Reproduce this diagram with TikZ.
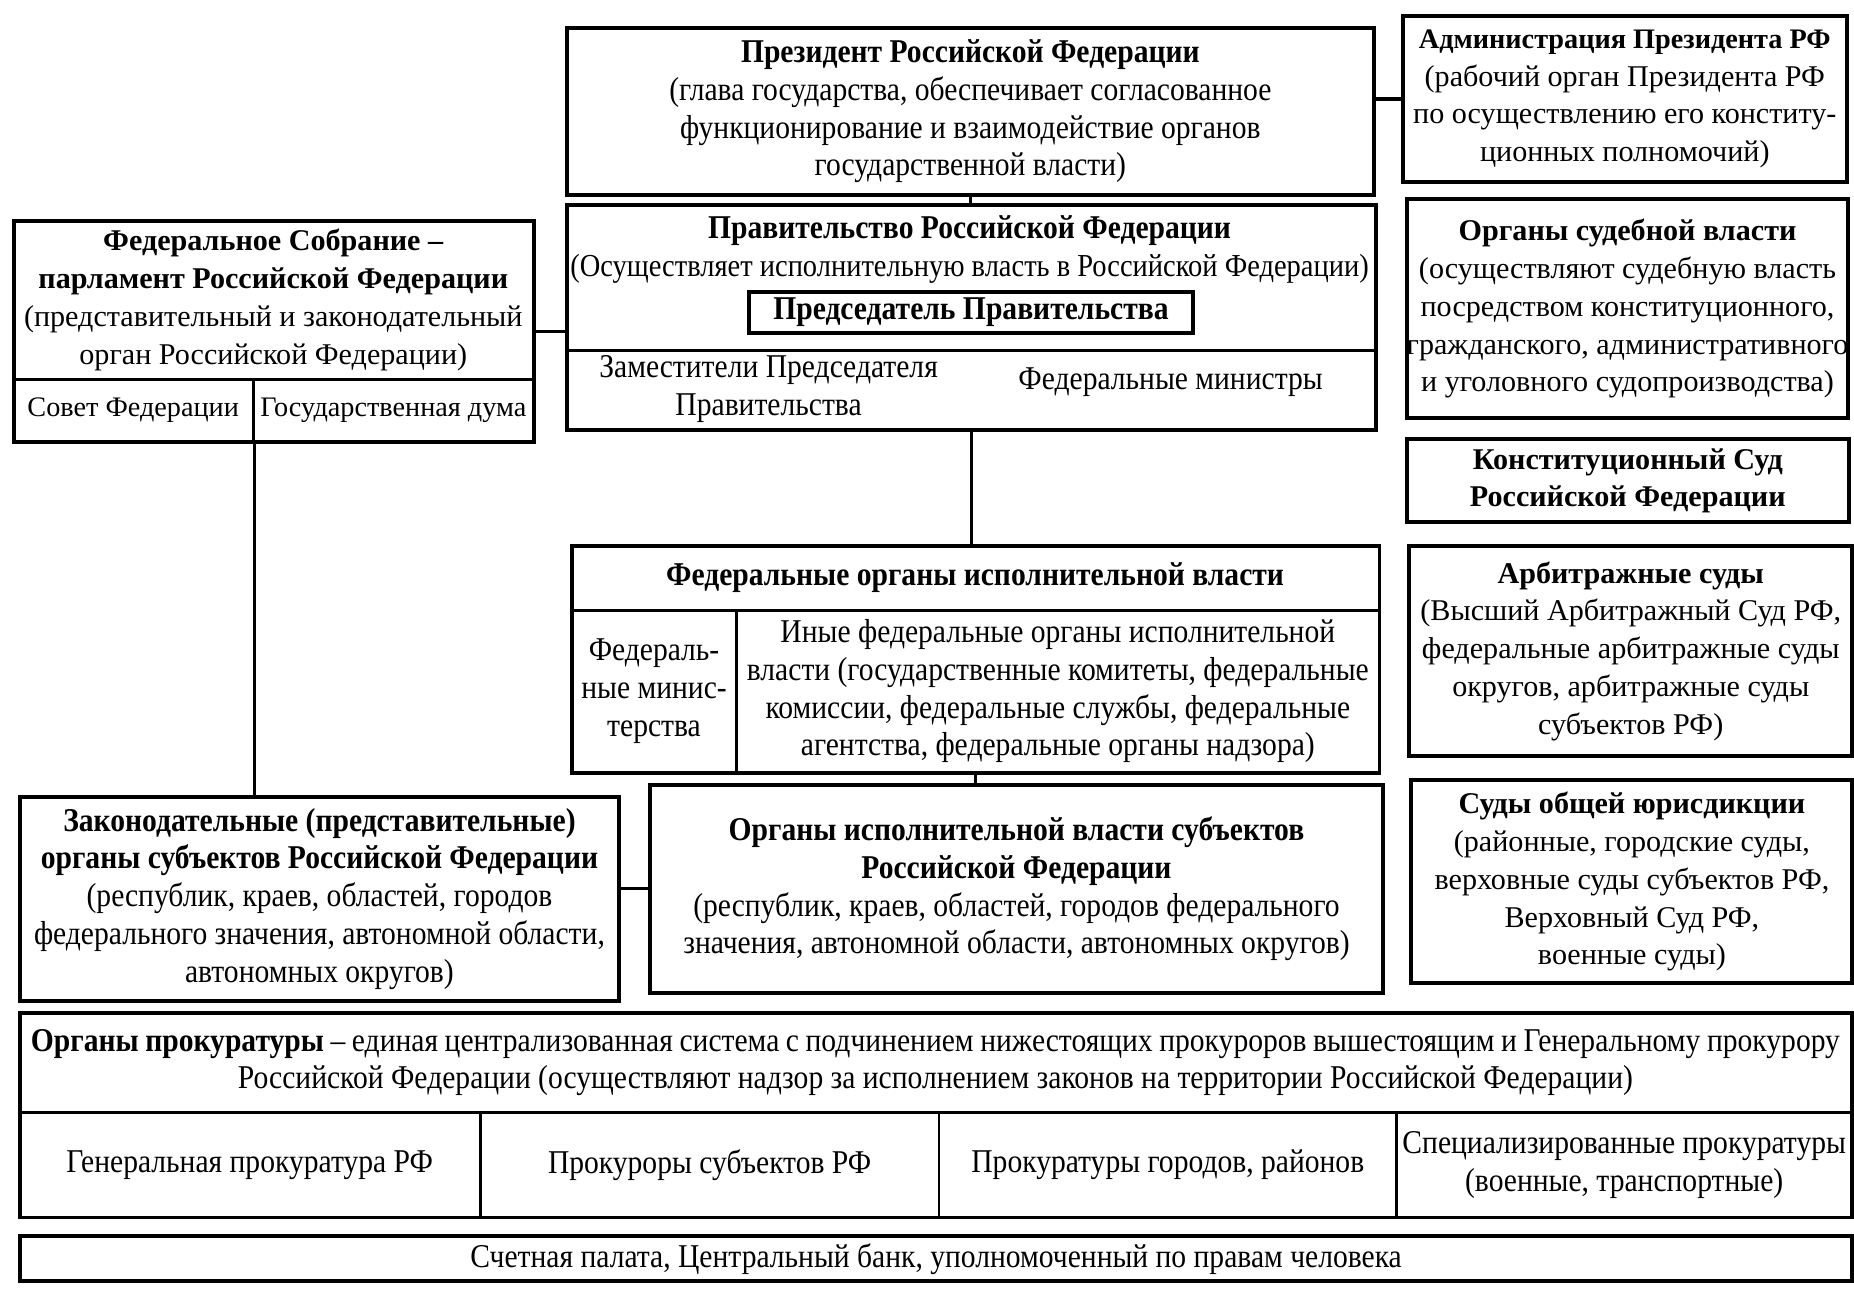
\documentclass[tikz,border=0pt]{standalone}
\usepackage{fontspec}
\setmainfont{Liberation Serif}[FakeStretch=0.89]
\newfontfamily\widefont{Liberation Serif}
\usetikzlibrary{calc}

\newlength\px
\setlength\px{0.02cm}
\newcommand\bodyfont{\fontsize{16}{18.2}\selectfont}
\newcommand\widebody{\widefont\fontsize{14.5}{18.2}\selectfont}
\newcommand\smallwide{\widefont\fontsize{13.6}{18.2}\selectfont}

\tikzset{
  wh/.style 2 args={minimum width=#1*\px, minimum height=#2*\px},
  frame/.style={draw, line width=1.9pt, inner sep=0pt, anchor=north west, align=center, font=\bodyfont},
  cell/.style={draw, line width=1.3pt, inner sep=0pt, anchor=north west, align=center, font=\bodyfont},
  label/.style={inner sep=0pt, align=center, font=\bodyfont},
  link/.style={line width=1.6pt},
}

\begin{document}
\begin{tikzpicture}[x={(0.02cm,0)}, y={(0,-0.02cm)}]
\useasboundingbox (0,0) rectangle (1568,1092);

% top row
\node[frame, wh={682}{141}] (pres) at (478,22) {\textbf{Президент Российской Федерации}\\(глава государства, обеспечивает согласованное\\функционирование и взаимодействие органов\\государственной власти)};
\node[frame, wh={375}{140}, font=\widebody] (admin) at (1185,12) {{\smallwide\textbf{Администрация Президента РФ}}\\(рабочий орган Президента РФ\\по осуществлению его конститу-\\ционных полномочий)};

% government
\node[cell, wh={684}{67}] (govbot) at (478,295) {};
\node[frame, wh={684}{190}] (gov) at (478,172) {};
\node[label] (govtitle) at (820,211) {\textbf{Правительство Российской Федерации}\\{\fontsize{15.4}{18.2}\selectfont(Осуществляет исполнительную власть в Российской Федерации)}};
\node[frame, wh={375}{35}] (chair) at (632,245) {\textbf{Председатель Правительства}};
\node[label] (deputy) at (650,329) {Заместители Председателя\\Правительства};
\node[label] (minist) at (990,323) {Федеральные министры};

% federal assembly
\node[cell, wh={440}{135}, font=\widebody] (sobrT) at (10,185) {\textbf{Федеральное Собрание –}\\\textbf{парламент Российской Федерации}\\(представительный и законодательный\\орган Российской Федерации)};
\node[cell, wh={203}{52}, font=\smallwide] (sobrL) at (10,320) {Совет Федерации};
\node[cell, wh={237}{52}, font=\smallwide] (sobrR) at (213,320) {Государственная дума};
\node[frame, wh={440}{187}] (sobr) at (10,185) {};

% judicial branch
\node[frame, wh={372}{185}, font=\widebody] (court) at (1188,167) {\textbf{Органы судебной власти}\\(осуществляют судебную власть\\посредством конституционного,\\гражданского, административного\\и уголовного судопроизводства)};
\node[frame, wh={374}{70}, font=\widebody] (ks) at (1188,370) {\textbf{Конституционный Суд}\\\textbf{Российской Федерации}};
\node[frame, wh={375}{178}, font=\widebody] (arb) at (1190,460) {\textbf{Арбитражные суды}\\(Высший Арбитражный Суд РФ,\\федеральные арбитражные суды\\округов, арбитражные суды\\субъектов РФ)};
\node[frame, wh={373}{172}, font=\widebody] (sog) at (1192,658) {\textbf{Суды общей юрисдикции}\\(районные, городские суды,\\верховные суды субъектов РФ,\\Верховный Суд РФ,\\военные суды)};

% federal executive bodies
\node[cell, wh={683}{55}] (foivT) at (482,460) {\textbf{Федеральные органы исполнительной власти}};
\node[cell, wh={140}{137}] (foivL) at (482,515) {Федераль-\\ные минис-\\терства};
\node[cell, wh={543}{137}] (foivR) at (622,515) {Иные федеральные органы исполнительной\\власти (государственные комитеты, федеральные\\комиссии, федеральные службы, федеральные\\агентства, федеральные органы надзора)};
\node[frame, wh={683}{192}] (foiv) at (482,460) {};

% regional bodies
\node[frame, wh={620}{176}] (subexec) at (548,662) {\textbf{Органы исполнительной власти субъектов}\\\textbf{Российской Федерации}\\(республик, краев, областей, городов федерального\\значения, автономной области, автономных округов)};
\node[frame, wh={507}{173}] (zak) at (15,672) {\textbf{Законодательные (представительные)}\\\textbf{органы субъектов Российской Федерации}\\(республик, краев, областей, городов\\федерального значения, автономной области,\\автономных округов)};

% prosecution
\node[cell, wh={1550}{85}] (prokT) at (15,855) {\makebox[1530\px][s]{\textbf{Органы прокуратуры} – единая централизованная система с подчинением нижестоящих прокуроров вышестоящим и Генеральному прокурору}\\Российской Федерации (осуществляют надзор за исполнением законов на территории Российской Федерации)};
\node[cell, wh={390}{88}] (prok1) at (15,940) {Генеральная прокуратура РФ};
\node[cell, wh={388}{88}] (prok2) at (405,940) {Прокуроры субъектов РФ};
\node[cell, wh={387}{88}] (prok3) at (793,940) {Прокуратуры городов, районов};
\node[cell, wh={385}{88}] (prok4) at (1180,940) {Специализированные прокуратуры\\(военные, транспортные)};
\node[frame, wh={1550}{173}] (prok) at (15,855) {};

\node[frame, wh={1550}{38}] (other) at (15,1044) {Счетная палата, Центральный банк, уполномоченный по правам человека};

% connectors
\draw[link] (admin.west -| pres.east) -- (admin.west);
\draw[link] (pres.south) -- (pres.south |- gov.north);
\draw[link] (sobr.east) -- (sobr.east -| gov.west);
\draw[link] (gov.south) -- (gov.south |- foiv.north);
\draw[link] (sobrL.south east) -- (sobrL.south east |- zak.north);
\draw[link] (foiv.south) -- (foiv.south |- subexec.north);
\draw[link] (subexec.west -| zak.east) -- (subexec.west);
\end{tikzpicture}
\end{document}
